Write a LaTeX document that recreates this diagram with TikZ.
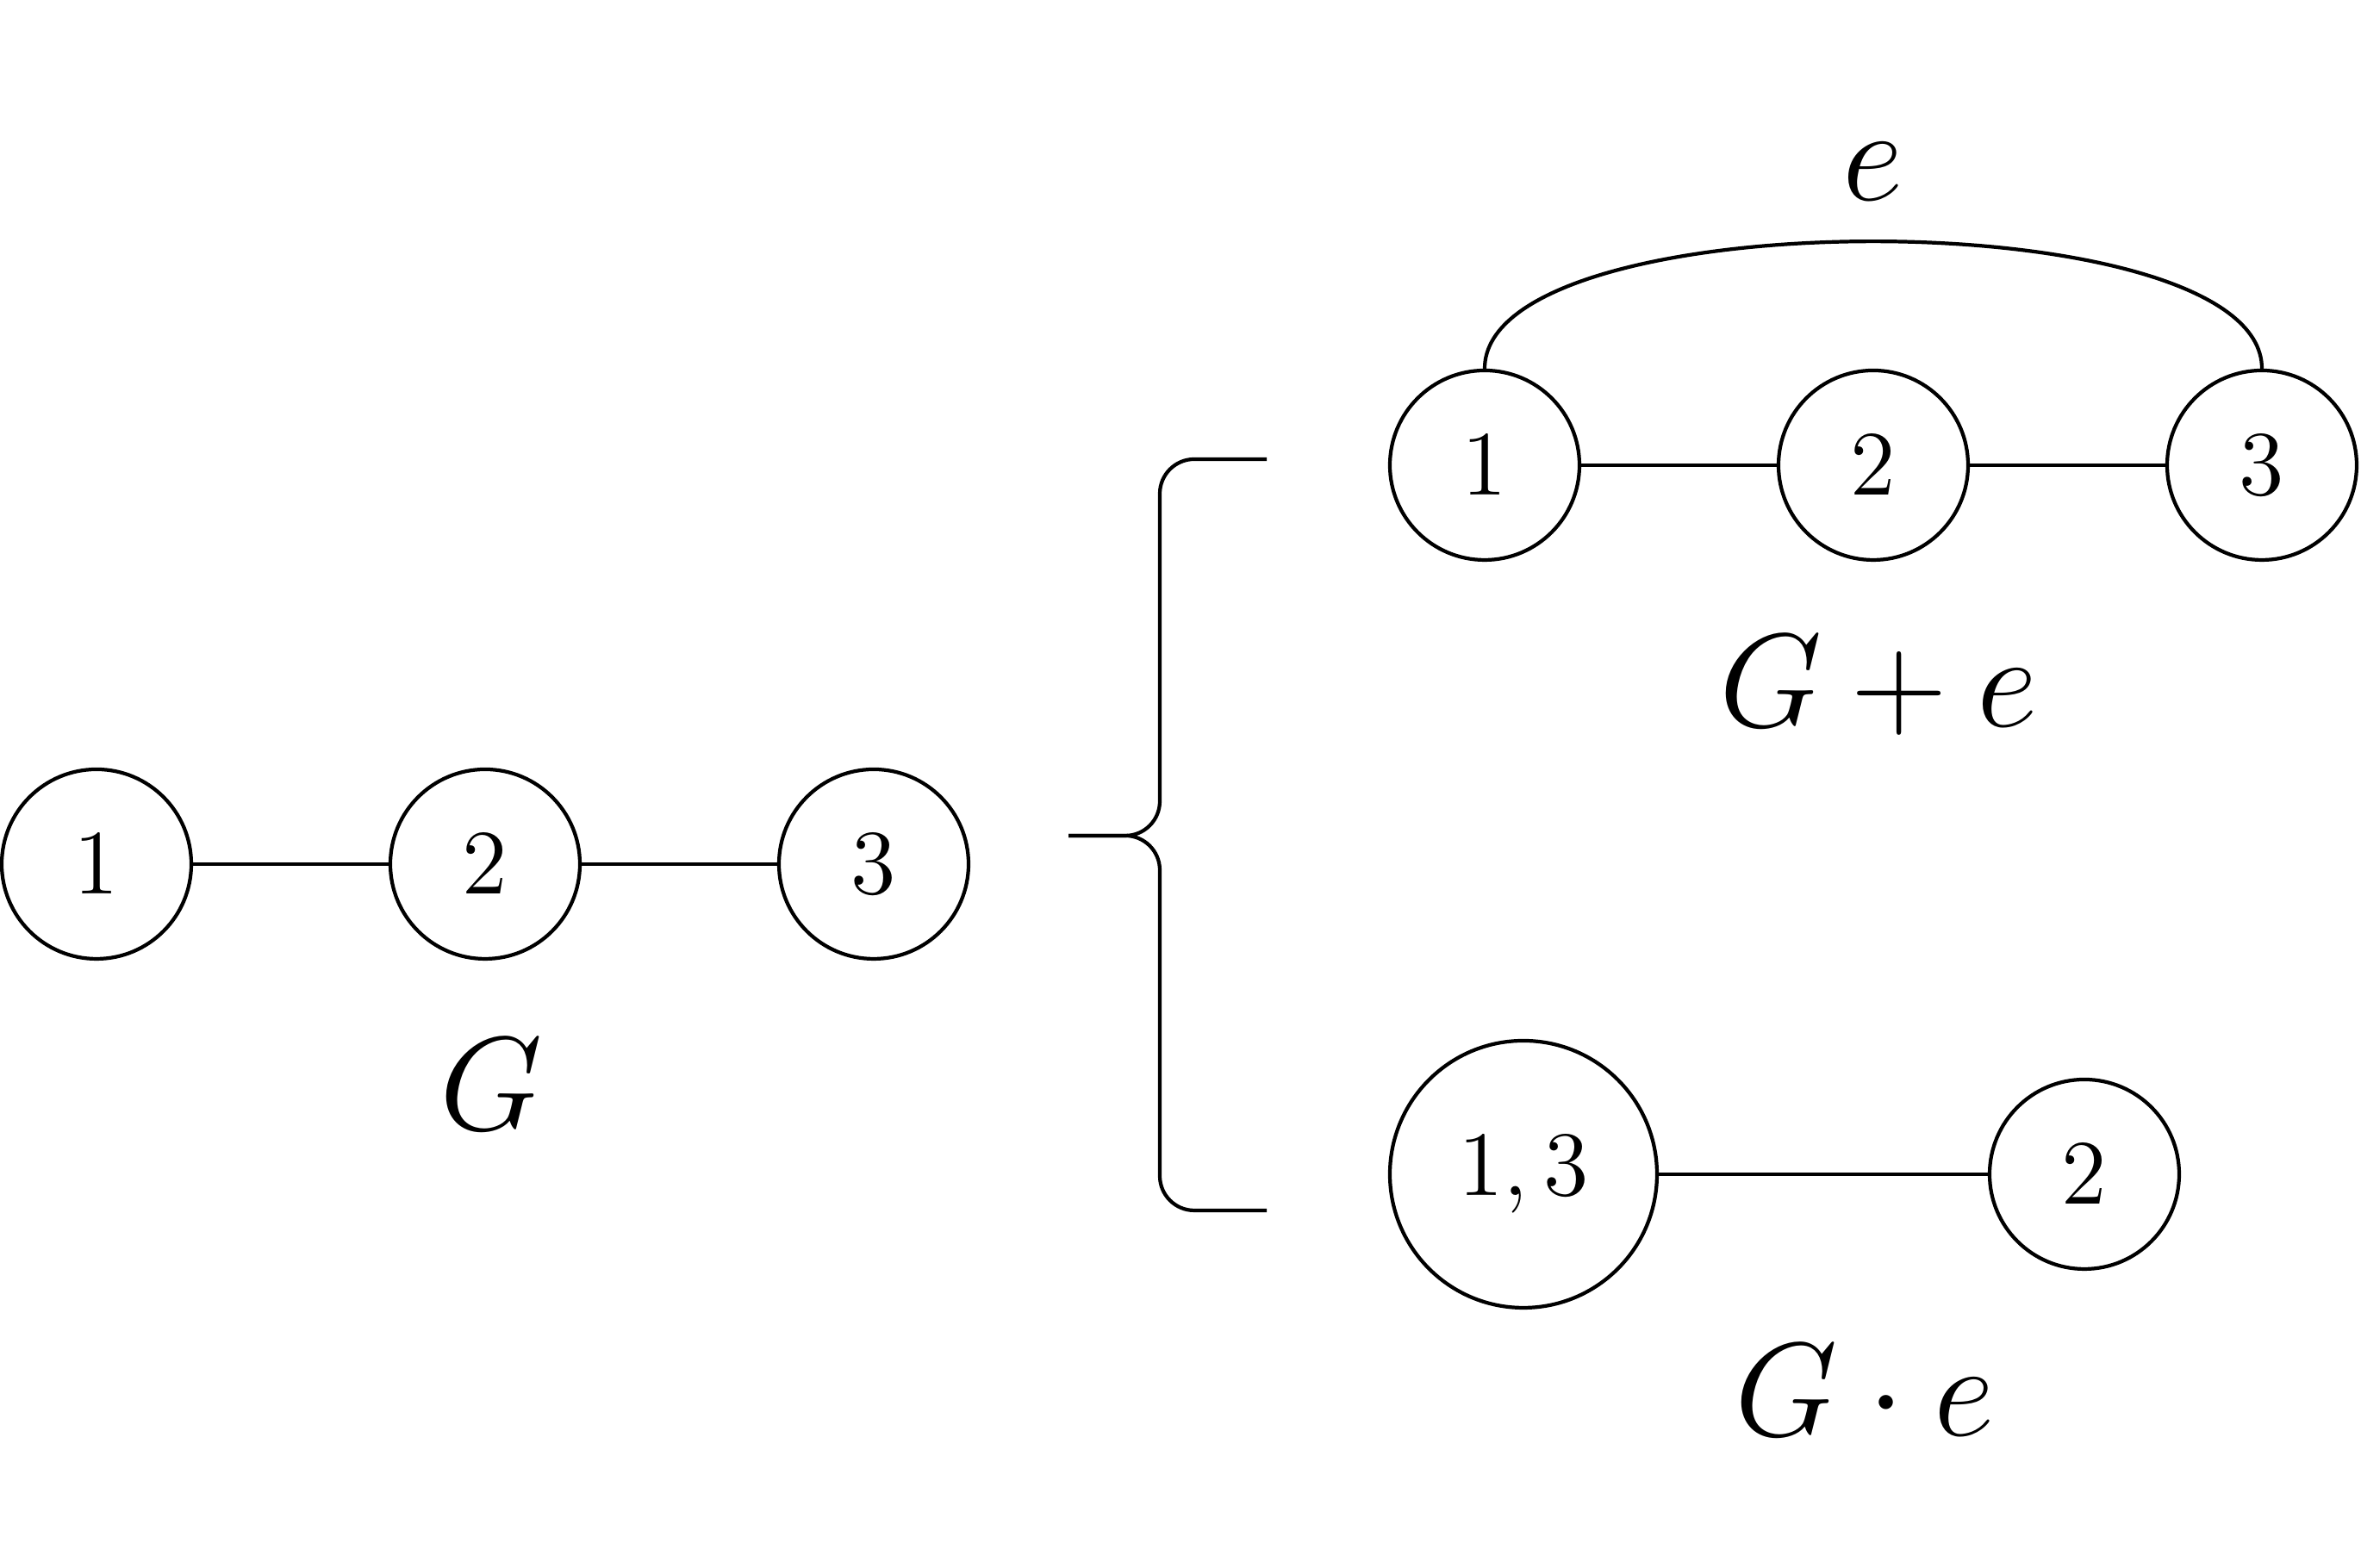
\documentclass[tikz,border=0pt]{standalone}
\usepackage{fix-cm}
\usepackage{amsmath}
\usepackage{amssymb}
\usepackage{tikz}
\usetikzlibrary{positioning}

\begin{document}
\begin{tikzpicture}[line width=0.6pt,
    vertex/.style={circle,draw=black,inner sep=0pt,minimum size=1.1cm,font=\fontsize{15.2}{18}\selectfont},
    bigfont/.style={font=\fontsize{22}{26}\selectfont},
    glabel/.style={bigfont,anchor=base}]
   \useasboundingbox (0,0) rectangle (13.7,9.1);

   % G
   \node[vertex] (a1) at (0.56,4.085) {$1$};
   \node[vertex] (a2) at (2.815,4.085) {$2$};
   \node[vertex] (a3) at (5.07,4.085) {$3$};
   \node[glabel] (ga) at (2.85,2.54) {$G$};

   \path[-]
     (a1) edge (a2)
     (a2) edge (a3);

   % brace
   \coordinate (tip) at (6.2,4.25);
   \coordinate (bend) at (6.73,4.25);
   \coordinate (up) at (7.35,6.435);
   \coordinate (down) at (7.35,2.075);
   \draw[rounded corners=0.2cm] (tip) -- (bend) |- (up);
   \draw[rounded corners=0.2cm] (tip) -- (bend) |- (down);

   % G + e
   \node[vertex] (b1) at (8.615,6.4) {$1$};
   \node[vertex] (b2) at (10.87,6.4) {$2$};
   \node[vertex] (b3) at (13.125,6.4) {$3$};
   \node[glabel] (gb) at (10.9,4.88) {$G+e$};

   \path[-]
     (b1) edge (b2)
     (b2) edge (b3)
     (b1) edge [out=90,in=90,looseness=0.56] node [above=0.23cm,inner sep=0pt,bigfont] {$e$} (b3);

   % G . e
   \node[vertex,minimum size=1.55cm] (c13) at (8.84,2.285) {$1,3$};
   \node[vertex] (c2) at (12.095,2.285) {$2$};
   \node[glabel] (gc) at (10.82,0.765) {$G\cdot e$};

   \path[-]
     (c13) edge (c2);
\end{tikzpicture}
\end{document}
